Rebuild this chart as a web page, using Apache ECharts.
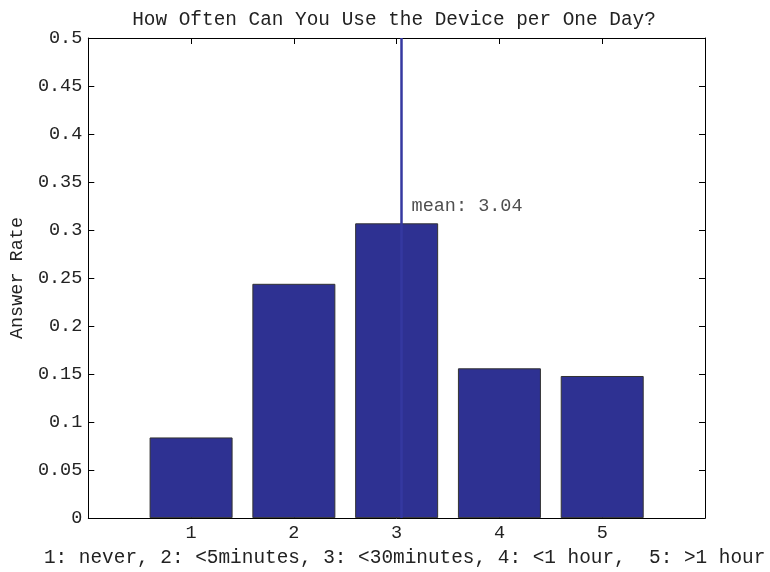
<!DOCTYPE html>
<html>
<head>
<meta charset="utf-8">
<script src="https://cdn.jsdelivr.net/npm/echarts@6/dist/echarts.min.js"></script>
<style>
  html, body { margin: 0; padding: 0; background: #fff; }
  #chart { width: 770px; height: 572px; }
</style>
</head>
<body>
<div id="chart"></div>
<script>
// 数据
const answers = [1, 2, 3, 4, 5];
const answerRate = [0.084, 0.244, 0.307, 0.156, 0.148];
const meanValue = 3.04;
const titleText = 'How Often Can You Use the Device per One Day?';
const xLabelText = '1: never, 2: <5minutes, 3: <30minutes, 4: <1 hour,  5: >1 hour';
const yLabelText = 'Answer Rate';

const font = 'Liberation Mono';
const textColor = '#222';
const barColor = '#2e3192';

const chart = echarts.init(document.getElementById('chart'));

// 共用的坐标轴样式（MATLAB 风格：刻度朝内，四周封框）
const axisLine = { show: true, onZero: false, lineStyle: { color: '#000', width: 1 } };
const tickIn = { show: true, inside: true, length: 6, lineStyle: { color: '#000' } };

const option = {
  animation: false,
  title: {
    text: titleText,
    left: 394,
    textAlign: 'center',
    top: 10,
    padding: 0,
    textStyle: { fontFamily: font, fontSize: 19.4, fontWeight: 'normal', color: textColor }
  },
  grid: { left: 83, right: 65, top: 38, bottom: 44 },
  xAxis: [
    {
      type: 'value',
      min: 0,
      max: 6,
      interval: 1,
      axisLine: axisLine,
      axisTick: tickIn,
      splitLine: { show: false },
      axisLabel: {
        margin: 6,
        fontFamily: font,
        fontSize: 18.5,
        color: textColor,
        formatter: (v) => (answers.indexOf(v) >= 0 ? String(v) : '')
      },
      name: xLabelText,
      nameLocation: 'middle',
      nameGap: 22,
      nameTextStyle: { fontFamily: font, fontSize: 19.4, color: textColor, padding: [0, 0, 0, 16] }
    },
    {
      type: 'value',
      position: 'top',
      min: 0,
      max: 6,
      interval: 1,
      axisLine: axisLine,
      axisTick: tickIn,
      axisLabel: { show: false },
      splitLine: { show: false }
    }
  ],
  yAxis: [
    {
      type: 'value',
      min: 0,
      max: 0.5,
      interval: 0.05,
      axisLine: axisLine,
      axisTick: tickIn,
      splitLine: { show: false },
      axisLabel: { margin: 6, fontFamily: font, fontSize: 18.5, color: textColor },
      name: yLabelText,
      nameLocation: 'middle',
      nameGap: 50,
      nameTextStyle: { fontFamily: font, fontSize: 18.5, color: textColor }
    },
    {
      type: 'value',
      position: 'right',
      min: 0,
      max: 0.5,
      interval: 0.05,
      axisLine: axisLine,
      axisTick: tickIn,
      axisLabel: { show: false },
      splitLine: { show: false }
    }
  ],
  series: [
    {
      type: 'bar',
      xAxisIndex: 0,
      yAxisIndex: 0,
      data: answers.map((a, i) => [a, answerRate[i]]),
      barWidth: 83,
      itemStyle: { color: barColor, borderColor: '#333', borderWidth: 1 },
      markLine: {
        silent: true,
        symbol: 'none',
        label: { show: false },
        lineStyle: { color: '#3538a0', width: 2.5, type: 'solid' },
        data: [{ xAxis: meanValue }]
      }
    },
    {
      // 均值标注文字
      type: 'scatter',
      xAxisIndex: 0,
      yAxisIndex: 0,
      symbolSize: 1,
      itemStyle: { color: 'rgba(0,0,0,0)' },
      data: [[meanValue + 0.1, 0.325]],
      label: {
        show: true,
        position: 'right',
        distance: 0,
        fontFamily: font,
        fontSize: 18.5,
        color: textColor,
        formatter: 'mean: ' + meanValue.toFixed(2)
      }
    }
  ]
};

chart.setOption(option);
</script>
</body>
</html>
